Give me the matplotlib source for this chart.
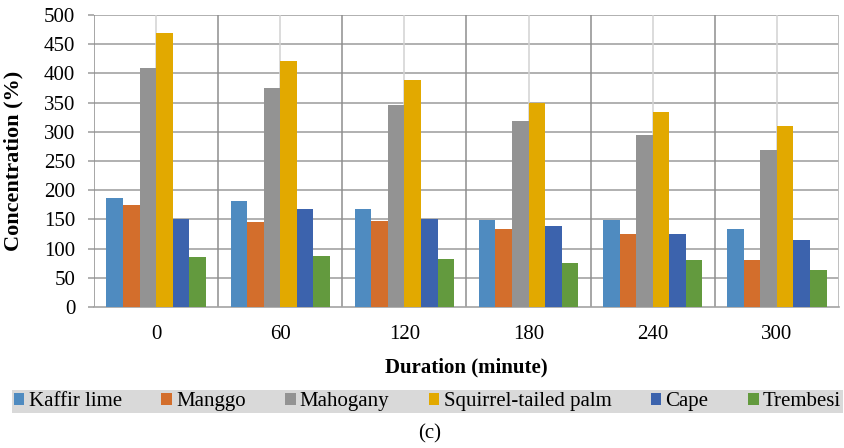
import numpy as np
import matplotlib
matplotlib.use("Agg")
import matplotlib.pyplot as plt
from matplotlib.ticker import MultipleLocator

plt.rcParams["font.family"] = "serif"
plt.rcParams["font.serif"] = ["Liberation Serif"]

durations = ["0", "60", "120", "180", "240", "300"]
species = ["Kaffir lime", "Manggo", "Mahogany", "Squirrel-tailed palm", "Cape", "Trembesi"]

kaffir_lime = [186, 181, 167, 149, 149, 133]
manggo = [174, 146, 148, 133, 125, 81]
mahogany = [410, 375, 346, 319, 294, 269]
squirrel_tailed_palm = [470, 421, 389, 350, 334, 310]
cape = [150, 167, 150, 139, 125, 115]
trembesi = [85, 87, 83, 75, 81, 63]

series = [kaffir_lime, manggo, mahogany, squirrel_tailed_palm, cape, trembesi]
colors = ["#4F8BC0", "#D36E2C", "#939393", "#E2A900", "#3C63AD", "#639A3E"]

W, H = 844, 448
fig = plt.figure(figsize=(W / 100, H / 100), dpi=100)
ax = fig.add_axes([94 / W, (H - 307) / H, (839 - 94) / W, (307 - 15) / H])

x = np.arange(len(durations))
group_width = 0.8
bar_w = group_width / len(series)
for i, (vals, name, col) in enumerate(zip(series, species, colors)):
    offset = -group_width / 2 + bar_w * (i + 0.5)
    ax.bar(x + offset, vals, width=bar_w, color=col, label=name, zorder=3, linewidth=0)

ax.set_xlim(-0.5, len(durations) - 0.5)
ax.set_ylim(0, 500)
ax.yaxis.set_major_locator(MultipleLocator(50))

# gridlines: horizontal every 50, vertical at group edges (dark) and centres (light)
for yv in np.arange(50, 501, 50):
    ax.axhline(yv, color="#A3A3A3", lw=1.2, zorder=1)
for xv in np.arange(-0.5, len(durations), 1.0)[1:]:
    ax.axvline(xv, color="#8E8E8E", lw=1.1, zorder=1)
for xv in x:
    ax.axvline(xv, color="#D2D2D2", lw=1.1, zorder=1)
ax.axvline(-0.5, color="#8E8E8E", lw=1.1, zorder=1)
ax.axvline(len(durations) - 0.5, color="#C8C8C8", lw=1.1, zorder=1)

for side in ["top", "right", "left"]:
    ax.spines[side].set_visible(False)
ax.spines["bottom"].set_color("#A3A3A3")
ax.spines["bottom"].set_linewidth(1.2)

ax.set_xticks(x)
ax.set_xticklabels(durations, fontsize=15)
ax.tick_params(axis="x", length=0, pad=13)
ax.tick_params(axis="y", length=4.5, color="#A3A3A3", width=1.2, pad=9, labelsize=15)

ax.set_ylabel("Concentration (%)", fontsize=16, fontweight="bold")
ax.yaxis.set_label_coords(-0.094, 0.5)
ax.set_xlabel("Duration (minute)", fontsize=15, fontweight="bold", labelpad=10)

leg = fig.legend(loc="center", ncol=6, mode="expand",
                 bbox_to_anchor=(12 / W, (H - 414) / H, (843 - 12) / W, 25 / H),
                 fontsize=15, frameon=True, fancybox=False, borderpad=0.1,
                 handlelength=0.5, handleheight=0.5, handletextpad=0.2,
                 borderaxespad=0, columnspacing=1.0)
leg.get_frame().set_facecolor("#D9D9D9")
leg.get_frame().set_edgecolor("none")
leg.get_frame().set_alpha(1)

fig.text(430 / W, 1 - 434 / H, "(c)", ha="center", va="center", fontsize=15)

fig.savefig("out.png", dpi=100)
